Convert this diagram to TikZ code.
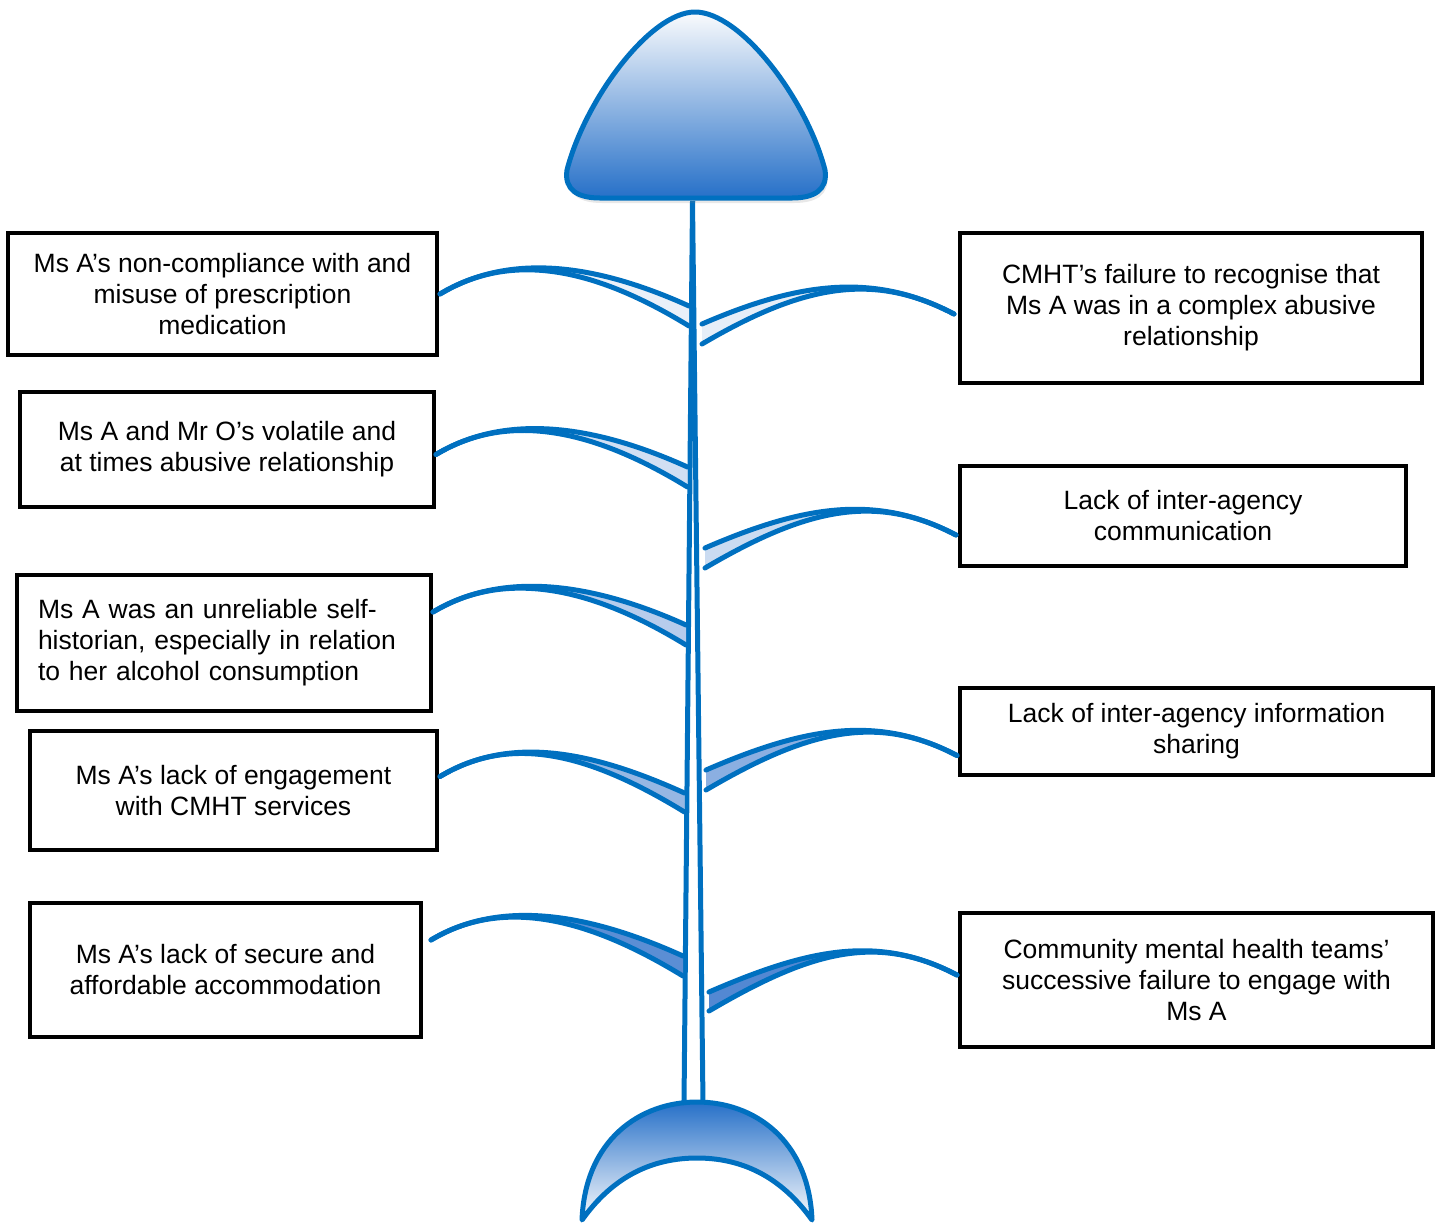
\documentclass[tikz,border=0pt]{standalone}
\usepackage{fontspec}
\setmainfont{Liberation Sans}
\usetikzlibrary{calc,shadows}

\definecolor{bonelin}{RGB}{0,112,192}
\definecolor{bonefil}{RGB}{45,110,200}
\definecolor{headtop}{RGB}{250,251,253}
\definecolor{headmid}{RGB}{188,202,234}
\definecolor{headbot}{RGB}{38,112,200}

\tikzset{
  cause/.style={draw=black, line width=3.5pt, anchor=north west, inner sep=6pt, outer sep=0pt,
    align=center, font=\fontsize{26.5}{31}\selectfont},
  bone/.style={draw=bonelin, line width=5pt, line cap=round},
  fish/.style={draw=bonelin, line width=5pt, line join=round},
}

\begin{document}
\begin{tikzpicture}[x=1pt,y=-1pt]
\useasboundingbox (0,0) rectangle (1445,1224);

% causes on the left
\node[cause, minimum width=429, minimum height=122] (meds) at (8,233)
  {Ms A’s non-compliance with and\\misuse of prescription\\medication};
\node[cause, minimum width=414, minimum height=115] (volatile) at (20,392)
  {Ms A and Mr O’s volatile and\\at times abusive relationship};
\node[cause, minimum width=414, minimum height=136, align=left, inner xsep=21pt,
  text width=372pt] (historian) at (17,575)
  {Ms A was an unreliable self-\\historian, especially in relation\\to her alcohol consumption};
\node[cause, minimum width=407, minimum height=119] (engage) at (30,731)
  {Ms A’s lack of engagement\\with CMHT services};
\node[cause, minimum width=391, minimum height=134] (housing) at (30,903)
  {Ms A’s lack of secure and\\affordable accommodation};

% causes on the right
\node[cause, minimum width=462, minimum height=150] (recognise) at (960,233)
  {CMHT’s failure to recognise that\\Ms A was in a complex abusive\\relationship};
\node[cause, minimum width=446, minimum height=100] (commun) at (960,466)
  {Lack of inter-agency\\communication};
\node[cause, minimum width=473, minimum height=87] (sharing) at (960,688)
  {Lack of inter-agency information\\sharing};
\node[cause, minimum width=473, minimum height=134] (cmhts) at (960,913)
  {Community mental health teams’\\successive failure to engage with\\Ms A};

% spine
\coordinate (neck) at (692.5,201);
\coordinate (taill) at (684,1104);
\coordinate (tailr) at (703,1104);
\draw[bone, line cap=butt] (neck) -- (taill);
\draw[bone, line cap=butt] (neck) -- (tailr);

% head and tail
\draw[fish, top color=headtop, middle color=headmid, bottom color=headbot,
  drop shadow={opacity=0.18, shadow xshift=2pt, shadow yshift=-5pt}]
  (695,12) .. controls (741,12) and (807,100) .. (825,170)
  .. controls (828,190) and (814,198) .. (792,198) -- (600,198)
  .. controls (578,198) and (564,190) .. (567,170)
  .. controls (585,100) and (650,12) .. (695,12) -- cycle;
\draw[fish, top color=headbot, bottom color=headtop]
  (582,1220) .. controls (585,1140) and (640,1102) .. (697,1102)
  .. controls (754,1102) and (809,1140) .. (812,1220)
  .. controls (780,1175) and (740,1158) .. (697,1158)
  .. controls (654,1158) and (614,1175) .. (582,1220) -- cycle;

% bone ends
\coordinate (b1) at ($(meds.east)+(3,0)$);
\coordinate (b2) at ($(volatile.east)+(2,5)$);
\coordinate (b3) at ($(historian.east)+(2,-31)$);
\coordinate (b4) at ($(engage.east)+(3,-14)$);
\coordinate (b5) at ($(housing.east)+(10,-30)$);
\coordinate (u1) at (689,306);   \coordinate (l1) at (689,326);
\coordinate (u2) at (687.5,467); \coordinate (l2) at (687.5,487);
\coordinate (u3) at (686,625);   \coordinate (l3) at (686,645);
\coordinate (u4) at (684.5,793); \coordinate (l4) at (684.5,812);
\coordinate (u5) at (683,956);   \coordinate (l5) at (683,976);

\coordinate (c1) at ($(recognise.west)+(-6,6)$);
\coordinate (c2) at ($(commun.west)+(-4,19)$);
\coordinate (c3) at ($(sharing.west)+(-3,24)$);
\coordinate (c4) at ($(cmhts.west)+(-3,-5)$);
\coordinate (v1) at (702,324);  \coordinate (w1) at (702,344);
\coordinate (v2) at (705,548);  \coordinate (w2) at (705,568);
\coordinate (v3) at (706,770);  \coordinate (w3) at (706,790);
\coordinate (v4) at (709,992);  \coordinate (w4) at (709,1011);

% bones, left
\foreach \b/\u/\l/\p in {b1/u1/l1/10, b2/u2/l2/22, b3/u3/l3/35, b4/u4/l4/50, b5/u5/l5/78} {
  \fill[bonefil!\p!white] (\b) .. controls +(70,-42) and +(-93,-42) .. (\u) -- (\l)
    .. controls +(-98,-60) and +(70,-42) .. (\b) -- cycle;
  \draw[bone] (\b) .. controls +(70,-42) and +(-93,-42) .. (\u);
  \draw[bone] (\b) .. controls +(70,-42) and +(-98,-60) .. (\l);
}
% bones, right
\foreach \b/\u/\l/\p in {c1/v1/w1/12, c2/v2/w2/25, c3/v3/w3/55, c4/v4/w4/82} {
  \fill[bonefil!\p!white] (\b) .. controls +(-80,-42) and +(97,-42) .. (\u) -- (\l)
    .. controls +(102,-60) and +(-80,-42) .. (\b) -- cycle;
  \draw[bone] (\b) .. controls +(-80,-42) and +(97,-42) .. (\u);
  \draw[bone] (\b) .. controls +(-80,-42) and +(102,-60) .. (\l);
}
\end{tikzpicture}
\end{document}
